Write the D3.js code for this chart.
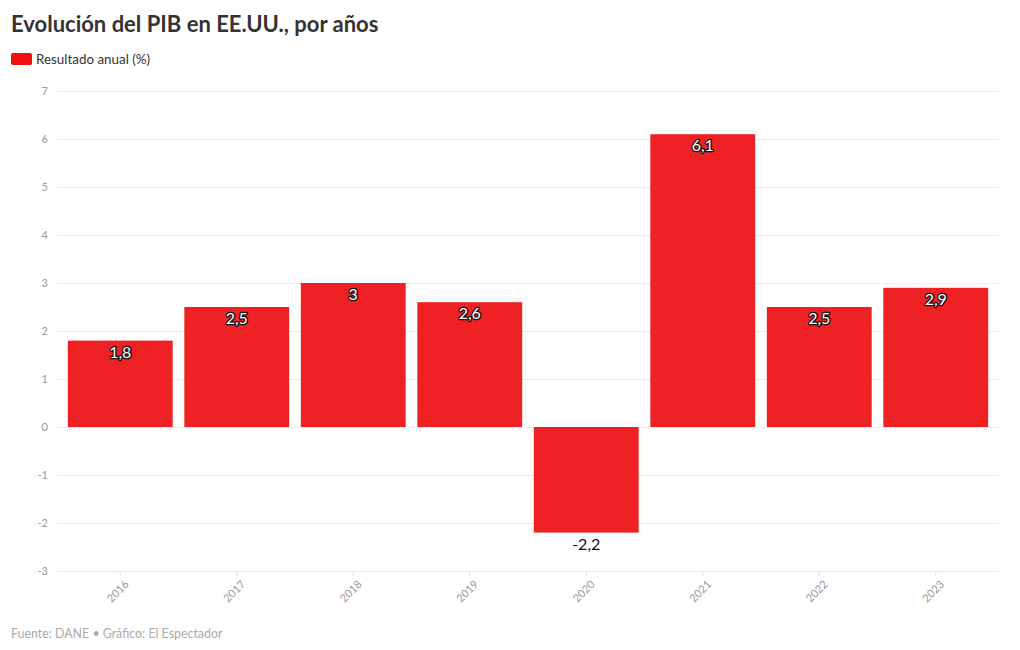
<!DOCTYPE html>
<html><head><meta charset="utf-8">
<script src="https://cdn.jsdelivr.net/npm/d3@7"></script>
<style>
body{margin:0;background:#fff;font-family:"Source Sans Pro",Lato,"Noto Sans",sans-serif;}
</style></head>
<body><svg id="c" width="1020" height="650"></svg>
<script>
const categories = ["2016","2017","2018","2019","2020","2021","2022","2023"];
const values = [1.8, 2.5, 3, 2.6, -2.2, 6.1, 2.5, 2.9];
const yTicks = [-3,-2,-1,0,1,2,3,4,5,6,7];
const title = "Evolución del PIB en EE.UU., por años";
const legendLabel = "Resultado anual (%)";
const footer = "Fuente: DANE • Gráfico: El Espectador";

const svg = d3.select("#c");
const font = 'Lato, "Noto Sans", sans-serif';
const red = "#ee2224";
const x = d3.scaleBand().domain(categories).range([62, 994]).paddingInner(0.1).paddingOuter(0.05);
const y = d3.scaleLinear().domain([-3, 7]).range([571, 91]);
const fmt = v => String(v).replace(".", ",");

svg.append("text").attr("x", 11).attr("y", 32).attr("font-family", font).attr("font-weight", 700)
  .attr("font-size", 22).attr("fill", "#333").text(title);
svg.append("rect").attr("x", 11).attr("y", 53).attr("width", 21).attr("height", 12).attr("rx", 2).attr("fill", "#ee1111");
svg.append("text").attr("x", 36).attr("y", 64).attr("font-family", font).attr("font-size", 13.4)
  .attr("fill", "#333").text(legendLabel);

// grid
const yAxis = d3.axisLeft(y).tickValues(yTicks).tickSize(-942).tickPadding(9).tickFormat(d => d);
const gy = svg.append("g").attr("transform", "translate(57,0)").call(yAxis);
gy.select(".domain").remove();
gy.selectAll(".tick line").attr("stroke", "#ececec");
gy.selectAll(".tick text").attr("font-family", font).attr("font-size", 11).attr("fill", "#999");

// x axis
const xAxis = d3.axisBottom(x).tickSize(5).tickPadding(6);
const gx = svg.append("g").attr("transform", "translate(0,571)").call(xAxis);
gx.select(".domain").remove();
gx.selectAll(".tick line").attr("stroke", "#e0e0e0");
gx.selectAll(".tick text").attr("font-family", font).attr("font-size", 11).attr("fill", "#999")
  .attr("text-anchor", "end").attr("dx", "-0.3em").attr("dy", "0.5em")
  .attr("transform", "rotate(-45)");

// bars
svg.append("g").selectAll("rect").data(values).join("rect")
  .attr("x", (d, i) => x(categories[i]))
  .attr("width", x.bandwidth())
  .attr("y", d => y(Math.max(0, d)))
  .attr("height", d => Math.abs(y(d) - y(0)))
  .attr("fill", red);

// labels
const lg = svg.append("g");
values.forEach((d, i) => {
  const cx = x(categories[i]) + x.bandwidth() / 2;
  if (d >= 0) {
    lg.append("text").attr("x", cx).attr("y", y(d) + 17).attr("text-anchor", "middle")
      .attr("font-family", font).attr("font-size", 16).attr("fill", "#fff")
      .attr("stroke", "#111").attr("stroke-width", 2.6).attr("paint-order", "stroke")
      .attr("stroke-linejoin", "round").text(fmt(d));
  } else {
    lg.append("text").attr("x", cx).attr("y", y(d) + 17).attr("text-anchor", "middle")
      .attr("font-family", font).attr("font-size", 16).attr("fill", "#111").text(fmt(d));
  }
});

svg.append("text").attr("x", 11).attr("y", 638).attr("font-family", font).attr("font-size", 12.4)
  .attr("fill", "#aaa").text(footer);
</script></body></html>
